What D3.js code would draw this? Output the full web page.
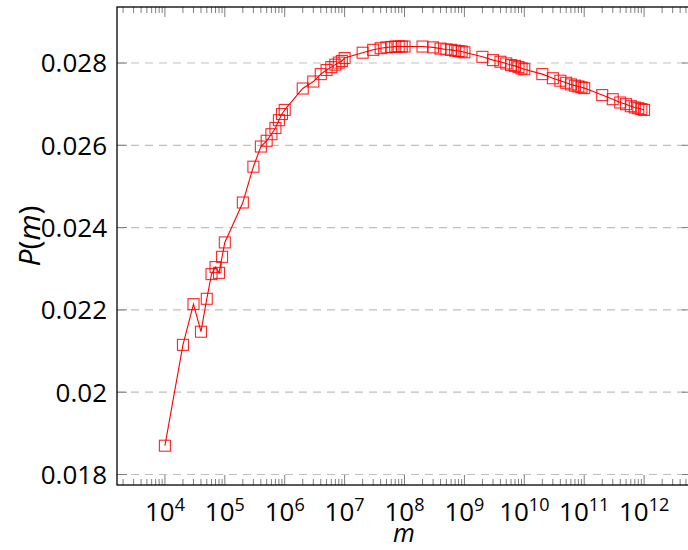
<!DOCTYPE html>
<html>
<head>
<meta charset="utf-8">
<script src="https://cdn.jsdelivr.net/npm/d3@7"></script>
<style>
  body { margin: 0; background: #fff; }
  text { font-family: "Open Sans", "DejaVu Sans", sans-serif; fill: #000; }
</style>
</head>
<body>
<svg width="688" height="550"></svg>
<script>
// mantissas and decades of the m values
const mantissas = [1, 2, 3, 4, 5, 6, 7, 8, 9];
const decades = [4, 5, 6, 7, 8, 9, 10, 11];

// P(m) per decade (m = k * 10^decade)
const p4 = [0.01870, 0.02115, 0.02214, 0.02147, 0.02227, 0.02287, 0.02304, 0.02290, 0.02329];
const p5 = [0.02364, 0.02461, 0.02548, 0.02597, 0.02611, 0.02627, 0.02642, 0.02661, 0.02676];
const p6 = [0.02686, 0.02738, 0.02755, 0.02773, 0.02783, 0.02790, 0.02796, 0.02801, 0.02805];
const p7 = [0.02812, 0.02825, 0.02832, 0.02836, 0.02838, 0.02839, 0.02840, 0.02840, 0.02840];
const p8 = [0.02840, 0.02840, 0.02838, 0.02835, 0.02833, 0.02832, 0.02830, 0.02829, 0.02828];
const p9 = [0.02826, 0.02815, 0.02807, 0.02803, 0.02799, 0.02795, 0.02793, 0.02790, 0.02787];
const p10 = [0.02785, 0.02773, 0.02763, 0.02757, 0.02752, 0.02748, 0.02745, 0.02743, 0.02741];
const p11 = [0.02739, 0.02722, 0.02712, 0.02704, 0.02700, 0.02695, 0.02692, 0.02690, 0.02688];
const pLast = 0.02686; // m = 10^12

const yTicks = [0.018, 0.02, 0.022, 0.024, 0.026, 0.028];
const yTickLabels = ['0.018', '0.02', '0.022', '0.024', '0.026', '0.028'];
const xTickExps = [4, 5, 6, 7, 8, 9, 10, 11, 12];

const pSeries = [p4, p5, p6, p7, p8, p9, p10, p11];
const data = [];
decades.forEach((e, i) => {
  mantissas.forEach((k, j) => data.push({ m: k * Math.pow(10, e), p: pSeries[i][j] }));
});
data.push({ m: 1e12, p: pLast });

const svg = d3.select('svg');

// plot box (right edge runs a bit past the picture, like the original)
const boxLeft = 117, boxRight = 692, boxTop = 7, boxBottom = 485;

const xscale = d3.scaleLog()
  .domain([Math.pow(10, 3.2), Math.pow(10, 12.8)])
  .range([boxLeft, boxRight]);

const yscale = d3.scaleLinear()
  .domain([0.017745, 0.029361])
  .range([boxBottom, boxTop]);

// grid
svg.append('g').selectAll('line').data(yTicks)
  .enter().append('line')
  .attr('x1', boxLeft).attr('x2', boxRight)
  .attr('y1', d => yscale(d)).attr('y2', d => yscale(d))
  .attr('stroke', '#bfbfbf')
  .attr('stroke-width', 1.2)
  .attr('stroke-dasharray', '8,6');

// minor x ticks
const minor = [];
for (let e = 3; e <= 12; e++) {
  for (let k = 2; k <= 9; k++) {
    const v = k * Math.pow(10, e);
    if (v > xscale.domain()[0] && v < xscale.domain()[1]) minor.push(v);
  }
}

const tickg = svg.append('g').attr('stroke', '#7f7f7f').attr('stroke-width', 1);

[boxBottom, boxTop].forEach(y0 => {
  const dir = y0 === boxBottom ? -1 : 1;
  tickg.append('g').selectAll('line').data(minor)
    .enter().append('line')
    .attr('x1', d => xscale(d)).attr('x2', d => xscale(d))
    .attr('y1', y0).attr('y2', y0 + dir * 6);
  tickg.append('g').selectAll('line').data(xTickExps)
    .enter().append('line')
    .attr('x1', d => xscale(Math.pow(10, d))).attr('x2', d => xscale(Math.pow(10, d)))
    .attr('y1', y0).attr('y2', y0 + dir * 10);
});

[boxLeft, boxRight].forEach(x0 => {
  const dir = x0 === boxLeft ? 1 : -1;
  tickg.append('g').selectAll('line').data(yTicks)
    .enter().append('line')
    .attr('x1', x0).attr('x2', x0 + dir * 10)
    .attr('y1', d => yscale(d)).attr('y2', d => yscale(d));
});

// frame
svg.append('rect')
  .attr('x', boxLeft).attr('y', boxTop)
  .attr('width', boxRight - boxLeft).attr('height', boxBottom - boxTop)
  .attr('fill', 'none')
  .attr('stroke', '#000')
  .attr('stroke-width', 1.3);

// line + square marks
const line = d3.line()
  .x(d => xscale(d.m))
  .y(d => yscale(d.p));

svg.append('path')
  .datum(data)
  .attr('d', line)
  .attr('fill', 'none')
  .attr('stroke', '#ff0000')
  .attr('stroke-width', 1.1);

svg.append('g').selectAll('rect').data(data)
  .enter().append('rect')
  .attr('x', d => xscale(d.m) - 5.5)
  .attr('y', d => yscale(d.p) - 5.5)
  .attr('width', 11).attr('height', 11)
  .attr('fill', 'none')
  .attr('stroke', '#ff0000')
  .attr('stroke-opacity', 0.85)
  .attr('stroke-width', 1.1);

// y tick labels
svg.append('g').selectAll('text').data(yTicks)
  .enter().append('text')
  .attr('x', 107)
  .attr('y', d => yscale(d))
  .attr('dy', '0.36em')
  .attr('text-anchor', 'end')
  .style('font-size', '26px')
  .text((d, i) => yTickLabels[i]);

// x tick labels 10^n
const xl = svg.append('g').selectAll('text').data(xTickExps)
  .enter().append('text')
  .attr('x', d => xscale(Math.pow(10, d)))
  .attr('y', 521)
  .attr('text-anchor', 'middle')
  .style('font-size', '26px');
xl.append('tspan').text('10');
xl.append('tspan')
  .attr('dy', -10)
  .style('font-size', '18px')
  .text(d => d);

// axis titles
svg.append('text')
  .attr('x', 404)
  .attr('y', 542)
  .attr('text-anchor', 'middle')
  .style('font-size', '25px')
  .style('font-style', 'italic')
  .text('m');

const yl = svg.append('text')
  .attr('transform', 'translate(40,236) rotate(-90)')
  .attr('text-anchor', 'middle')
  .style('font-size', '30px');
yl.append('tspan').style('font-style', 'italic').text('P');
yl.append('tspan').text('(');
yl.append('tspan').style('font-style', 'italic').text('m');
yl.append('tspan').text(')');
</script>
</body>
</html>
